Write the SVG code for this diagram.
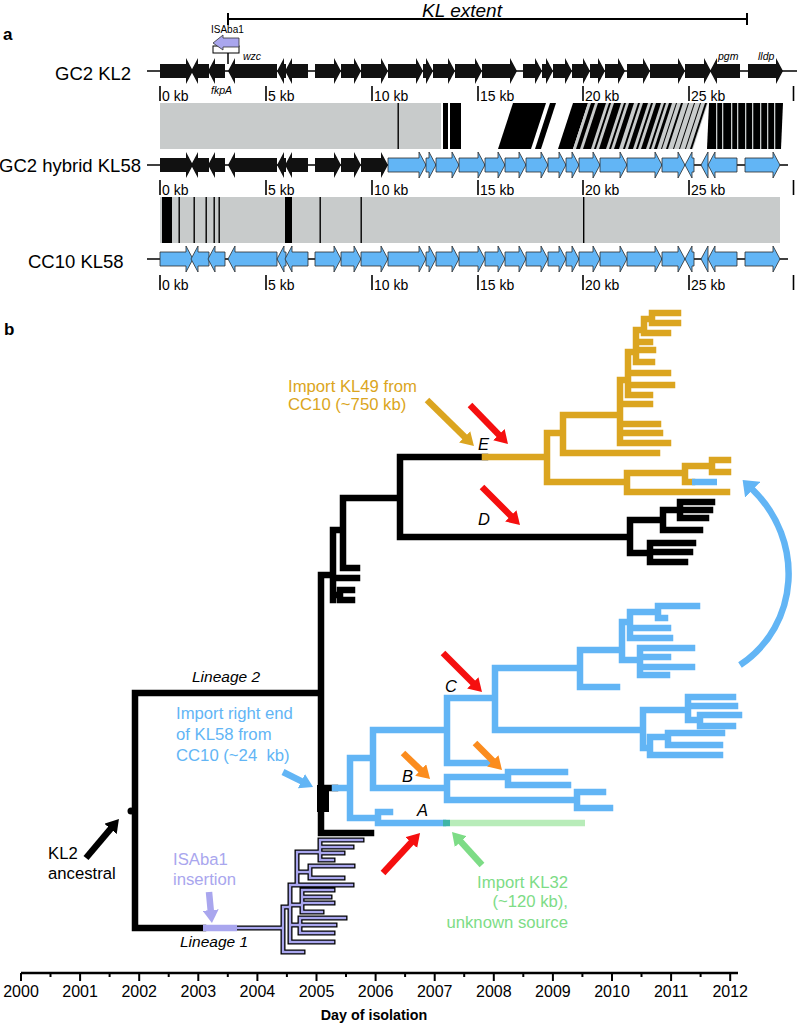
<svg xmlns="http://www.w3.org/2000/svg" xmlns:xlink="http://www.w3.org/1999/xlink" width="797" height="1024" viewBox="0 0 797 1024">
<style>
text{font-family:"Liberation Sans",Arial,sans-serif}
.lbl{font-size:18.5px;fill:#000}
.kb{font-size:14px;fill:#000}
.gn{font-size:10.5px;font-style:italic;fill:#000}
.gk{fill:#111}
.gb{fill:#62b5f5;stroke:#2b2b2b;stroke-width:0.8}
.bb{stroke:#000;stroke-width:1.5;fill:none}
.tick{stroke:#000;stroke-width:1.6}
.gray{fill:#c8cbcb}
.t{fill:none;stroke-width:6.5;stroke-linecap:square}
.tk{stroke:#000}
.tb{stroke:#62b5f5}
.tg{stroke:#dba520}
.pk{fill:none;stroke:#000;stroke-width:5;stroke-linecap:square}
.pp{fill:none;stroke:#a9a6ee;stroke-width:2.4;stroke-linecap:square}
.ann{font-size:16.7px}
.it{font-style:italic;font-size:16px;fill:#000}
.yr{font-size:16px;fill:#000;text-anchor:middle}
.arr{fill:none;stroke-width:6.5}
</style>
<defs>
<marker id="mR" viewBox="0 0 13 16" refX="1" refY="8" markerWidth="13" markerHeight="16" orient="auto" markerUnits="userSpaceOnUse"><path d="M0,0 L13,8 L0,16 z" fill="#f50f0f"/></marker>
<marker id="mO" viewBox="0 0 13 16" refX="1" refY="8" markerWidth="13" markerHeight="16" orient="auto" markerUnits="userSpaceOnUse"><path d="M0,0 L13,8 L0,16 z" fill="#fb8c1e"/></marker>
<marker id="mG" viewBox="0 0 13 16" refX="1" refY="8" markerWidth="13" markerHeight="16" orient="auto" markerUnits="userSpaceOnUse"><path d="M0,0 L13,8 L0,16 z" fill="#dba520"/></marker>
<marker id="mN" viewBox="0 0 13 16" refX="1" refY="8" markerWidth="13" markerHeight="16" orient="auto" markerUnits="userSpaceOnUse"><path d="M0,0 L13,8 L0,16 z" fill="#7ddc86"/></marker>
<marker id="mB" viewBox="0 0 13 16" refX="1" refY="8" markerWidth="13" markerHeight="16" orient="auto" markerUnits="userSpaceOnUse"><path d="M0,0 L13,8 L0,16 z" fill="#62b5f5"/></marker>
<marker id="mBig" viewBox="0 0 14 22" refX="1" refY="11" markerWidth="14" markerHeight="22" orient="auto" markerUnits="userSpaceOnUse"><path d="M0,0 L14,11 L0,22 z" fill="#62b5f5"/></marker>
<marker id="mK" viewBox="0 0 13 16" refX="1" refY="8" markerWidth="13" markerHeight="16" orient="auto" markerUnits="userSpaceOnUse"><path d="M0,0 L13,8 L0,16 z" fill="#000"/></marker>
<marker id="mL" viewBox="0 0 13 16" refX="1" refY="8" markerWidth="13" markerHeight="16" orient="auto" markerUnits="userSpaceOnUse"><path d="M0,0 L13,8 L0,16 z" fill="#a9a6ee"/></marker>
<g id="leftBlock">
<polygon points="160,-7 186,-7 186,-13 193,0 186,13 186,7 160,7"/>
<polygon points="209,-7 198,-7 198,-13 191,0 198,13 198,7 209,7"/>
<polygon points="225,-7 215,-7 215,-13 208,0 215,13 215,7 225,7"/>
<polygon points="277,-7 235,-7 235,-13 228,0 235,13 235,7 277,7"/>
<polygon points="286,-7 284,-7 284,-13 277,0 284,13 284,7 286,7"/>
<polygon points="308,-7 292,-7 292,-13 285,0 292,13 292,7 308,7"/>
<polygon points="315,-7 334,-7 334,-13 341,0 334,13 334,7 315,7"/>
<polygon points="341,-7 354,-7 354,-13 361,0 354,13 354,7 341,7"/>
<polygon points="361,-7 381,-7 381,-13 388,0 381,13 381,7 361,7"/>
</g>
<g id="kl2Right">
<polygon points="388,-7 416,-7 416,-13 423,0 416,13 416,7 388,7"/>
<polygon points="423,-7 426,-7 426,-13 433,0 426,13 426,7 423,7"/>
<polygon points="433,-7 448,-7 448,-13 455,0 448,13 448,7 433,7"/>
<polygon points="455,-7 475,-7 475,-13 482,0 475,13 475,7 455,7"/>
<polygon points="482,-7 510,-7 510,-13 517,0 510,13 510,7 482,7"/>
<polygon points="523,-7 535,-7 535,-13 542,0 535,13 535,7 523,7"/>
<polygon points="542,-7 546,-7 546,-13 553,0 546,13 546,7 542,7"/>
<polygon points="553,-7 565,-7 565,-13 572,0 565,13 565,7 553,7"/>
<polygon points="572,-7 583,-7 583,-13 590,0 583,13 583,7 572,7"/>
<polygon points="590,-7 598,-7 598,-13 605,0 598,13 598,7 590,7"/>
<polygon points="605,-7 618,-7 618,-13 625,0 618,13 618,7 605,7"/>
<polygon points="627,-7 643,-7 643,-13 650,0 643,13 643,7 627,7"/>
<polygon points="650,-7 678,-7 678,-13 685,0 678,13 678,7 650,7"/>
<polygon points="685,-7 704,-7 704,-13 711,0 704,13 704,7 685,7"/>
<polygon points="740,-7 717,-7 717,-13 710,0 717,13 717,7 740,7"/>
<polygon points="748,-7 776,-7 776,-13 783,0 776,13 776,7 748,7"/>
</g>
<g id="kl58Right">
<polygon points="388,-7 419,-7 419,-13 426,0 419,13 419,7 388,7"/>
<polygon points="426,-7 429,-7 429,-13 436,0 429,13 429,7 426,7"/>
<polygon points="436,-7 452,-7 452,-13 459,0 452,13 452,7 436,7"/>
<polygon points="459,-7 478,-7 478,-13 485,0 478,13 478,7 459,7"/>
<polygon points="485,-7 498,-7 498,-13 505,0 498,13 498,7 485,7"/>
<polygon points="505,-7 519,-7 519,-13 526,0 519,13 519,7 505,7"/>
<polygon points="526,-7 541,-7 541,-13 548,0 541,13 541,7 526,7"/>
<polygon points="548,-7 559,-7 559,-13 566,0 559,13 559,7 548,7"/>
<polygon points="566,-7 572,-7 572,-13 579,0 572,13 572,7 566,7"/>
<polygon points="579,-7 593,-7 593,-13 600,0 593,13 593,7 579,7"/>
<polygon points="600,-7 620,-7 620,-13 627,0 620,13 620,7 600,7"/>
<polygon points="627,-7 655,-7 655,-13 662,0 655,13 655,7 627,7"/>
<polygon points="662,-7 678,-7 678,-13 685,0 678,13 678,7 662,7"/>
<polygon points="694,-7 692,-7 692,-13 685,0 692,13 692,7 694,7"/>
<polygon points="708,-13 701,0 708,13"/>
<polygon points="737,-7 715,-7 715,-13 708,0 715,13 715,7 737,7"/>
<polygon points="745,-7 773,-7 773,-13 780,0 773,13 773,7 745,7"/>
</g>
<g id="ticks">
<line class="tick" x1="160" y1="0" x2="160" y2="15"/><line class="tick" x1="266" y1="0" x2="266" y2="15"/><line class="tick" x1="372" y1="0" x2="372" y2="15"/><line class="tick" x1="478" y1="0" x2="478" y2="15"/><line class="tick" x1="583" y1="0" x2="583" y2="15"/><line class="tick" x1="689" y1="0" x2="689" y2="15"/><line class="tick" x1="793.5" y1="0" x2="793.5" y2="15"/>
<text class="kb" x="162" y="15">0 kb</text><text class="kb" x="268" y="15">5 kb</text><text class="kb" x="374" y="15">10 kb</text><text class="kb" x="480" y="15">15 kb</text><text class="kb" x="585" y="15">20 kb</text><text class="kb" x="691" y="15">25 kb</text>
</g>
</defs>

<text x="3" y="40" style="font-size:17px;font-weight:bold">a</text>
<text x="4" y="335" style="font-size:17px;font-weight:bold">b</text>

<g id="kl-extent">
<line class="bb" x1="228" y1="19" x2="747" y2="19" style="stroke-width:2"/>
<line class="bb" x1="228" y1="13" x2="228" y2="25" style="stroke-width:2"/>
<line class="bb" x1="747" y1="13" x2="747" y2="25" style="stroke-width:2"/>
<text x="422" y="17" style="font-size:19px;font-style:italic">KL extent</text>
</g>

<g id="row-gc2-kl2">
<text class="lbl" x="55" y="80">GC2 KL2</text>
<line class="bb" x1="147" y1="71" x2="797" y2="71"/>
<use href="#leftBlock" class="gk" transform="translate(0,71)"/>
<use href="#kl2Right" class="gk" transform="translate(0,71)"/>
<line class="bb" x1="228" y1="53" x2="228" y2="64"/>
<rect x="213" y="46" width="26" height="7" fill="#fff" stroke="#000" stroke-width="1"/>
<polygon points="239,38 223,38 223,35 213,43 223,50 223,47 239,47" fill="#a9a6ee" stroke="#333" stroke-width="0.8"/>
<text x="211" y="33" style="font-size:10px">ISAba1</text>
<text class="gn" x="243" y="60">wzc</text>
<text class="gn" x="211" y="94">fkpA</text>
<text class="gn" x="718" y="60">pgm</text>
<text class="gn" x="758" y="60">lldp</text>
<use href="#ticks" transform="translate(0,86)"/>
</g>

<g id="compare-1">
<rect class="gray" x="160" y="103" width="281" height="46"/>
<rect x="397.5" y="103" width="1.4" height="46"/>
<rect x="443" y="103" width="5" height="46"/>
<rect x="450" y="103" width="11" height="46"/>
<polygon points="513,103 546,103 531,149 498,149"/>
<polygon points="550,103 556,103 541,149 535,149"/>
<polygon points="573,103 588,103 573,149 558,149"/>
<polygon class="gray" points="588,103 708,103 693,149 573,149"/>
<g>
<polygon points="591,103 595,103 580,149 576,149"/>
<polygon points="598,103 606,103 591,149 583,149"/>
<polygon points="609,103 611,103 596,149 594,149"/>
<polygon points="614,103 621,103 606,149 599,149"/>
<polygon points="624,103 626,103 611,149 609,149"/>
<polygon points="629,103 634,103 619,149 614,149"/>
<polygon points="638,103 640,103 625,149 623,149"/>
<polygon points="643,103 648,103 633,149 628,149"/>
<polygon points="651,103 653,103 638,149 636,149"/>
<polygon points="656,103 661,103 646,149 641,149"/>
<polygon points="664,103 666,103 651,149 649,149"/>
<polygon points="669,103 672,103 657,149 654,149"/>
<polygon points="676,103 677,103 662,149 661,149"/>
<polygon points="681,103 683,103 668,149 666,149"/>
<polygon points="688,103 689,103 674,149 673,149"/>
<polygon points="694,103 695,103 680,149 679,149"/>
<polygon points="700,103 701,103 686,149 685,149"/>
<polygon points="705,103 707,103 692,149 690,149"/>
</g>
<polygon points="709,103 783,103 781,149 707,149"/>
<g fill="#c8cbcb">
<rect x="716" y="103" width="1.3" height="46"/><rect x="722" y="103" width="1.3" height="46"/><rect x="731" y="103" width="1.3" height="46"/><rect x="737" y="103" width="1.3" height="46"/><rect x="745" y="103" width="1.3" height="46"/><rect x="752" y="103" width="1.3" height="46"/><rect x="760" y="103" width="1.3" height="46"/><rect x="767" y="103" width="1.3" height="46"/><rect x="774" y="103" width="1.3" height="46"/>
</g>
</g>

<g id="row-gc2-hybrid-kl58">
<text class="lbl" x="141" y="172" text-anchor="end">GC2 hybrid KL58</text>
<line class="bb" x1="147" y1="165" x2="788" y2="165"/>
<use href="#leftBlock" class="gk" transform="translate(0,165)"/>
<use href="#kl58Right" class="gb" transform="translate(0,165)"/>
<use href="#ticks" transform="translate(0,180)"/>
</g>

<g id="compare-2">
<rect class="gray" x="160" y="197" width="620" height="46"/>
<rect x="162" y="197" width="10" height="46"/>
<rect x="285" y="197" width="7" height="46"/>
<g>
<rect x="178.5" y="197" width="1.4" height="46"/><rect x="193.5" y="197" width="1.4" height="46"/><rect x="205.5" y="197" width="1.4" height="46"/><rect x="213.5" y="197" width="1.4" height="46"/><rect x="218.5" y="197" width="1.4" height="46"/><rect x="319.5" y="197" width="1.4" height="46"/><rect x="360.5" y="197" width="1.4" height="46"/><rect x="583" y="197" width="1.4" height="46"/>
</g>
</g>

<g id="row-cc10-kl58">
<text class="lbl" x="28" y="268">CC10 KL58</text>
<line class="bb" x1="147" y1="259" x2="788" y2="259"/>
<use href="#leftBlock" class="gb" transform="translate(0,259)"/>
<use href="#kl58Right" class="gb" transform="translate(0,259)"/>
<use href="#ticks" transform="translate(0,275)"/>
</g>

<g id="tree">
<g id="lineage1-purple">
<path d="M237,928 H283 M283,907 V952 M283,952 H303 M283,907 H290 M290,885 V942 M290,942 H333 M290,925 H300 M300,918 V933 M300,918 H345 M300,925 H335 M300,933 H333 M290,905 H302 M302,890 V912 M302,912 H322 M302,903 H333 M302,897 H330 M302,890 H333 M290,885 H297 M297,852 V885 M297,885 H352 M297,872 H310 M310,866 V878 M310,866 H353 M310,878 H343 M297,852 H320 M320,840 V860 M320,840 H362 M320,847 H352 M320,853 H343 M320,860 H333" class="pk"/>
<path d="M237,928 H283 M283,907 V952 M283,952 H303 M283,907 H290 M290,885 V942 M290,942 H333 M290,925 H300 M300,918 V933 M300,918 H345 M300,925 H335 M300,933 H333 M290,905 H302 M302,890 V912 M302,912 H322 M302,903 H333 M302,897 H330 M302,890 H333 M290,885 H297 M297,852 V885 M297,885 H352 M297,872 H310 M310,866 V878 M310,866 H353 M310,878 H343 M297,852 H320 M320,840 V860 M320,840 H362 M320,847 H352 M320,853 H343 M320,860 H333" class="pp"/>
</g>
<g id="black-backbone">
<path class="t tk" d="M135,693 V928 M135,928 H203 M135,693 H320 M321,575 V833 M321,833 H371 M321,575 H333 M333,530 V600 M333,578 H357 M333,595 H340 M340,590 V600 M340,590 H352 M340,600 H352 M333,530 H343 M343,498 V568 M343,568 H357 M343,498 H400 M400,457 V537 M400,457 H485 M400,537 H630 M630,520 V553 M630,520 H663 M663,510 V530 M663,510 H680 M680,502 V518 M680,502 H712 M680,510 H710 M680,518 H706 M663,530 H700 M630,553 H650 M650,543 V562 M650,543 H693 M650,552 H690 M650,562 H685 M321,788 H335"/>
<rect x="317" y="785" width="12" height="27"/>
<circle cx="131" cy="811" r="3.5"/>
<line x1="203" y1="928" x2="237" y2="928" stroke="#a9a6ee" stroke-width="6.5"/>
</g>
<g id="gold-clade">
<path class="t tg" d="M485,457 H547 M547,433 V482 M547,433 H563 M563,415 V453 M563,453 H657 M563,415 H620 M620,380 V443 M620,443 H668 M620,433 H660 M620,424 H658 M620,404 H650 M620,380 H628 M628,352 V395 M628,395 H650 M628,385 H672 M628,373 H668 M628,352 H636 M636,330 V362 M636,362 H652 M636,350 H653 M636,342 H650 M636,330 H644 M644,319 V333 M644,333 H668 M644,319 H652 M652,313 V323 M652,313 H678 M652,323 H678 M547,482 H627 M627,473 V492 M627,473 H685 M685,466 V482 M685,466 H712 M712,460 V472 M712,460 H728 M712,472 H728 M685,482 H692 M627,492 H727"/>
<line x1="692" y1="482" x2="717" y2="482" stroke="#62b5f5" stroke-width="6.5"/>
</g>
<g id="blue-clade">
<path class="t tb" d="M335,788 H350 M350,758 V818 M350,758 H373 M373,730 V788 M373,730 H447 M447,698 V763 M447,698 H495 M495,668 V730 M495,668 H580 M580,650 V687 M580,687 H617 M580,650 H622 M622,622 V660 M622,622 H630 M630,612 V638 M630,612 H658 M658,606 V618 M658,606 H697 M658,618 H665 M630,628 H668 M630,638 H670 M622,660 H640 M640,648 V675 M640,648 H692 M640,657 H668 M640,667 H692 M640,675 H667 M495,730 H643 M643,710 V748 M643,710 H688 M688,697 V720 M688,697 H733 M688,706 H735 M688,720 H700 M700,715 V726 M700,715 H739 M700,726 H733 M643,748 H650 M650,737 V755 M650,737 H668 M668,733 V745 M668,733 H722 M668,745 H720 M650,755 H720 M447,763 H490 M373,788 H447 M447,777 V800 M447,777 H508 M508,772 V785 M508,772 H565 M508,785 H568 M447,800 H577 M577,792 V808 M577,792 H603 M577,808 H610 M350,818 H378 M378,812 V823 M378,812 H390 M378,823 H443"/>
<line x1="443" y1="823" x2="450" y2="823" stroke="#3fb5a6" stroke-width="6.5"/>
<line x1="450" y1="823" x2="585" y2="823" stroke="#b8ecb9" stroke-width="6.5"/>
</g>
</g>

<g id="connectors">
<path class="arr" stroke="#dba520" d="M427,400 L465.4,437.6" marker-end="url(#mG)"/>
<path class="arr" stroke="#f50f0f" d="M470,405 L499.6,435.4" marker-end="url(#mR)"/>
<path class="arr" stroke="#f50f0f" d="M482,487 L511.5,516.5" marker-end="url(#mR)"/>
<path class="arr" stroke="#f50f0f" d="M443,653 L473.5,683.5" marker-end="url(#mR)"/>
<path class="arr" stroke="#fb8c1e" d="M403,753 L421.4,770.7" marker-end="url(#mO)"/>
<path class="arr" stroke="#fb8c1e" d="M475,743 L493.5,761.5" marker-end="url(#mO)"/>
<path class="arr" stroke="#f50f0f" d="M383,873 L411.9,841.8" marker-end="url(#mR)"/>
<path class="arr" stroke="#7ddc86" d="M482,865 L460.1,840.9" marker-end="url(#mN)"/>
<path class="arr" stroke="#62b5f5" stroke-width="5" d="M283,772 L302.3,781.6" marker-end="url(#mB)"/>
<path class="arr" stroke="#000" d="M86,858 L111.2,828.2" marker-end="url(#mK)"/>
<path class="arr" stroke="#a9a6ee" d="M209,892 L210.8,911.1" marker-end="url(#mL)"/>
<path class="arr" stroke="#62b5f5" stroke-width="5" d="M740,665 C800,625 805,540 752,489" marker-end="url(#mBig)"/>
</g>

<g id="labels">
<text class="ann" fill="#dba520" x="288" y="392">Import KL49 from</text>
<text class="ann" fill="#dba520" x="288" y="410">CC10 (~750 kb)</text>
<text class="ann" fill="#62b5f5" x="176" y="719">Import right end</text>
<text class="ann" fill="#62b5f5" x="176" y="740">of KL58 from</text>
<text class="ann" fill="#62b5f5" x="176" y="761" xml:space="preserve">CC10 (~24  kb)</text>
<text class="ann" fill="#7ddc86" x="568" y="888" text-anchor="end">Import KL32</text>
<text class="ann" fill="#7ddc86" x="568" y="907" text-anchor="end">(~120 kb),</text>
<text class="ann" fill="#7ddc86" x="568" y="928" text-anchor="end">unknown source</text>
<text class="ann" fill="#a9a6ee" x="173" y="865">ISAba1</text>
<text class="ann" fill="#a9a6ee" x="173" y="885">insertion</text>
<text class="ann" fill="#000" x="48" y="859">KL2</text>
<text class="ann" fill="#000" x="48" y="879">ancestral</text>
<text class="it" x="192" y="682" style="font-size:15.5px">Lineage 2</text>
<text class="it" x="180" y="947" style="font-size:15.5px">Lineage 1</text>
<text class="it" x="478" y="450" style="font-size:16.5px">E</text>
<text class="it" x="478" y="525" style="font-size:16.5px">D</text>
<text class="it" x="445" y="692" style="font-size:16.5px">C</text>
<text class="it" x="402" y="782" style="font-size:16.5px">B</text>
<text class="it" x="417" y="816" style="font-size:16.5px">A</text>
</g>

<g id="axis">
<line x1="21" y1="973" x2="738" y2="973" stroke="#000" stroke-width="2.5"/>
<g stroke="#000" stroke-width="2">
<line x1="21" y1="973" x2="21" y2="981"/><line x1="80.1" y1="973" x2="80.1" y2="981"/><line x1="139.2" y1="973" x2="139.2" y2="981"/><line x1="198.3" y1="973" x2="198.3" y2="981"/><line x1="257.4" y1="973" x2="257.4" y2="981"/><line x1="316.5" y1="973" x2="316.5" y2="981"/><line x1="375.6" y1="973" x2="375.6" y2="981"/><line x1="434.7" y1="973" x2="434.7" y2="981"/><line x1="493.8" y1="973" x2="493.8" y2="981"/><line x1="552.9" y1="973" x2="552.9" y2="981"/><line x1="612" y1="973" x2="612" y2="981"/><line x1="671.1" y1="973" x2="671.1" y2="981"/><line x1="730.2" y1="973" x2="730.2" y2="981"/>
<line x1="50.5" y1="973" x2="50.5" y2="977"/><line x1="109.6" y1="973" x2="109.6" y2="977"/><line x1="168.7" y1="973" x2="168.7" y2="977"/><line x1="227.8" y1="973" x2="227.8" y2="977"/><line x1="286.9" y1="973" x2="286.9" y2="977"/><line x1="346" y1="973" x2="346" y2="977"/><line x1="405.1" y1="973" x2="405.1" y2="977"/><line x1="464.2" y1="973" x2="464.2" y2="977"/><line x1="523.3" y1="973" x2="523.3" y2="977"/><line x1="582.4" y1="973" x2="582.4" y2="977"/><line x1="641.5" y1="973" x2="641.5" y2="977"/><line x1="700.6" y1="973" x2="700.6" y2="977"/>
</g>
<text class="yr" x="21" y="997">2000</text><text class="yr" x="80.1" y="997">2001</text><text class="yr" x="139.2" y="997">2002</text><text class="yr" x="198.3" y="997">2003</text><text class="yr" x="257.4" y="997">2004</text><text class="yr" x="316.5" y="997">2005</text><text class="yr" x="375.6" y="997">2006</text><text class="yr" x="434.7" y="997">2007</text><text class="yr" x="493.8" y="997">2008</text><text class="yr" x="552.9" y="997">2009</text><text class="yr" x="612" y="997">2010</text><text class="yr" x="671.1" y="997">2011</text><text class="yr" x="730.2" y="997">2012</text>
<text x="374" y="1020" text-anchor="middle" style="font-size:14.3px;font-weight:bold">Day of isolation</text>
</g>
</svg>
